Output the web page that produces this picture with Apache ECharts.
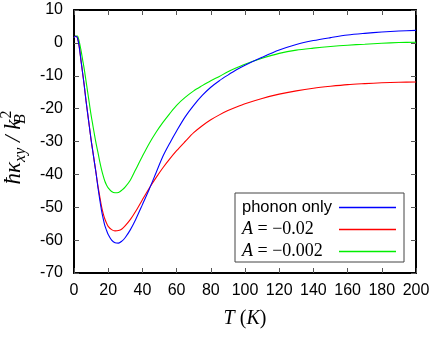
<!DOCTYPE html>
<html><head><meta charset="utf-8">
<script src="https://cdn.jsdelivr.net/npm/echarts@6/dist/echarts.min.js"></script>
<style>html,body{margin:0;padding:0;background:#fff}#c{width:436px;height:340px}</style>
</head><body><div id="c"></div>
<script>
// Temperature T (K)
const T = [0,1,2,3,4,5,6,7,8,9,10,11,12,13,14,15,16,17,18,19,20,22,24,26,28,30,33,36,40,44,48,52,56,60,65,70,75,80,85,90,95,100,110,120,130,140,150,160,170,180,190,200];
// phonon only
const phononOnly = [1.6,2.0,1.5,-1,-5,-9,-13,-17.5,-21.5,-25.5,-29.5,-33,-36.5,-40,-44,-47.5,-50.7,-53.3,-55.5,-57,-58.3,
  -60,-60.8,-60.9,-60.3,-59.2,-56.8,-53.8,-49.2,-44.5,-39.5,-34.5,-30.5,-26.8,
  -22.5,-19,-16,-13.5,-11.5,-9.8,-8.2,-6.8,-4.4,-2.2,-0.5,0.7,1.6,2.4,2.9,3.3,3.6,3.8];
// A = -0.02
const aLarge = [1.6,2.0,1.5,-1,-5,-9,-13,-17.5,-21.5,-25.5,-29.5,-33,-36.5,-40,-43.5,-46.5,-49.5,-51.8,-53.5,-54.8,-55.8,
  -56.8,-57.2,-57.1,-56.6,-55.6,-53.7,-51.3,-47.7,-44.2,-41,-38,-35.3,-32.8,
  -30,-27.3,-25.2,-23.4,-21.9,-20.6,-19.5,-18.5,-16.9,-15.6,-14.6,-13.8,-13.2,-12.7,-12.4,-12.15,-12.0,-11.9];
// A = -0.002
const aSmall = [1.6,2.1,2.1,0.5,-2,-5,-8,-11.5,-15,-18.5,-22,-25,-28,-30.8,-33.3,-36,-38.3,-40.3,-42,-43.2,-44.1,
  -45.2,-45.6,-45.5,-44.8,-43.8,-41.7,-38.6,-34.5,-30.6,-27.2,-24.2,-21.5,-19,
  -16.6,-14.6,-13,-11.5,-10.2,-8.8,-7.6,-6.5,-4.7,-3.2,-2.2,-1.6,-1.1,-0.7,-0.4,-0.1,0.1,0.2];
const seriesNames = ['phonon only', 'A = \u22120.02', 'A = \u22120.002'];
const seriesColors = ['#0000ff', '#ff0000', '#00ee00'];
const xRange = {min: 0, max: 200, interval: 20};
const yRange = {min: -70, max: 10, interval: 10};

const pair = arr => T.map((t, i) => [t, arr[i]]);
const sans = 'Liberation Sans';
const serif = 'Liberation Serif';
const axisLine = {show: true, onZero: false, lineStyle: {color: '#000', width: 2}};
const tick = {show: true, inside: true, length: 5, lineStyle: {color: '#555', width: 1}};

const chart = echarts.init(document.getElementById('c'), null, {renderer: 'canvas'});
chart.setOption({
  animation: false,
  backgroundColor: '#fff',
  grid: {left: 74, right: 20, top: 10, bottom: 67, outerBoundsMode: 'none', containLabel: false},
  xAxis: [{
    type: 'value', ...xRange, position: 'bottom',
    axisLine, axisTick: tick, splitLine: {show: false},
    axisLabel: {color: '#000', fontFamily: sans, fontSize: 16, margin: 10},
    name: '{i|T} ({i|K})', nameLocation: 'middle', nameGap: 36,
    nameTextStyle: {color: '#000', fontFamily: serif, fontSize: 20,
      rich: {i: {fontStyle: 'italic', fontFamily: serif, fontSize: 20}}}
  }, {
    type: 'value', ...xRange, position: 'top',
    axisLine, axisTick: tick, splitLine: {show: false}, axisLabel: {show: false}
  }],
  yAxis: [{
    type: 'value', ...yRange, position: 'left',
    axisLine, axisTick: tick, splitLine: {show: false},
    axisLabel: {color: '#000', fontFamily: sans, fontSize: 16, margin: 11},
    name: '{i|\u0127\u03ba}{s|xy}{i| / k}{sb|B}{p|2}', nameLocation: 'middle', nameGap: 40, nameRotate: 90,
    nameTextStyle: {color: '#000', fontFamily: serif, fontSize: 23, padding: [0, 0, 0, -12],
      rich: {
        i: {fontStyle: 'italic', fontFamily: serif, fontSize: 23, lineHeight: 30, verticalAlign: 'middle'},
        s: {fontStyle: 'italic', fontFamily: serif, fontSize: 16, lineHeight: 15, verticalAlign: 'bottom'},
        sb: {fontStyle: 'italic', fontFamily: serif, fontSize: 16, lineHeight: 15, verticalAlign: 'bottom', width: 1, align: 'left'},
        p: {fontFamily: serif, fontSize: 16, lineHeight: 15, verticalAlign: 'top'}
      }}
  }, {
    type: 'value', ...yRange, position: 'right',
    axisLine, axisTick: tick, splitLine: {show: false}, axisLabel: {show: false}
  }],
  legend: {
    left: 235, top: 193, orient: 'vertical', align: 'right',
    data: seriesNames.map(n => ({name: n})),
    icon: 'rect', itemWidth: 57, itemHeight: 1.5, itemGap: 1,
    padding: [4, 8, 0, 7],
    backgroundColor: '#fff', borderColor: '#444', borderWidth: 1,
    formatter: name => name.startsWith('A') ? '{i|A}{m|' + name.slice(1) + '}' : '{t|' + name + '}',
    textStyle: {color: '#000', width: 92, lineHeight: 21,
      rich: {
        t: {fontFamily: sans, fontSize: 16.5, lineHeight: 21, align: 'left'},
        i: {fontFamily: serif, fontStyle: 'italic', fontSize: 18, lineHeight: 21, align: 'left'},
        m: {fontFamily: serif, fontSize: 18, lineHeight: 21, align: 'left'}
      }}
  },
  series: [phononOnly, aLarge, aSmall].map((arr, k) => ({
    name: seriesNames[k], type: 'line', data: pair(arr), smooth: 0.3,
    showSymbol: false, symbol: 'none', xAxisIndex: 0, yAxisIndex: 0,
    lineStyle: {color: seriesColors[k], width: 1.1}, itemStyle: {color: seriesColors[k]},
    z: 3 - k
  }))
});
</script></body></html>
